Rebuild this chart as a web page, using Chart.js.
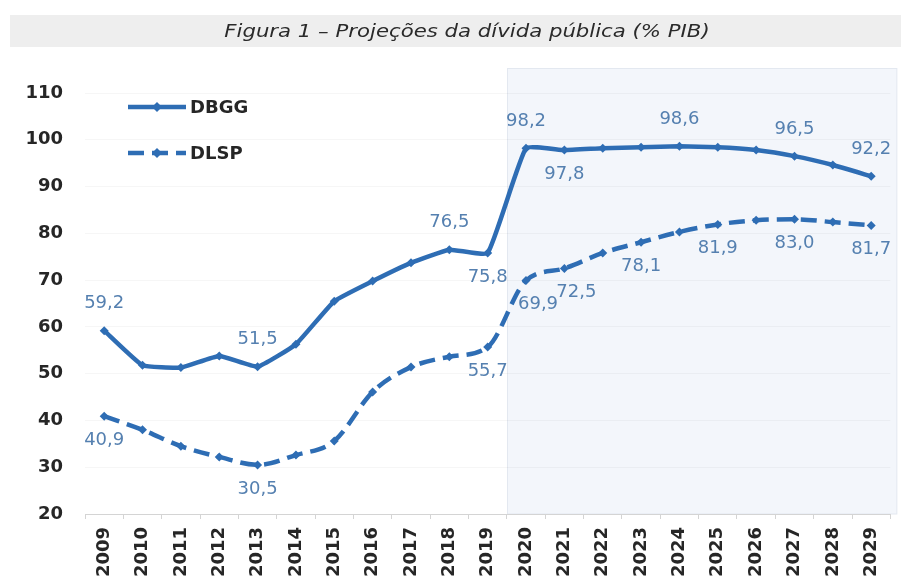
<!DOCTYPE html>
<html>
<head>
<meta charset="utf-8">
<script src="https://cdn.jsdelivr.net/npm/chart.js@4/dist/chart.umd.min.js"></script>
<style>
  html, body { margin: 0; padding: 0; background: #ffffff; }
  #wrap { width: 901px; height: 583px; }
</style>
</head>
<body>
<div id="wrap"><canvas id="c" width="901" height="583"></canvas></div>
<script>
// ---- data ----
const titleText = 'Figura 1 – Projeções da dívida pública (% PIB)';
const years = ['2009','2010','2011','2012','2013','2014','2015','2016','2017','2018','2019',
               '2020','2021','2022','2023','2024','2025','2026','2027','2028','2029'];
const dbgg = [59.2, 51.8, 51.3, 53.8, 51.5, 56.3, 65.5, 69.8, 73.7, 76.5, 75.8,
              98.2, 97.8, 98.2, 98.4, 98.6, 98.4, 97.8, 96.5, 94.6, 92.2];
const dlsp = [40.9, 38.0, 34.5, 32.2, 30.5, 32.6, 35.6, 46.1, 51.4, 53.6, 55.7,
              69.9, 72.5, 75.8, 78.1, 80.3, 81.9, 82.8, 83.0, 82.4, 81.7];
// which points carry a value label: 'a' above, 'b' below, 'br' below-right
const dbggLabels = ['a',null,null,null,'a',null,null,null,null,'a','b',
                    'a','b',null,null,'a',null,null,'a',null,'a'];
const dlspLabels = ['b',null,null,null,'b',null,null,null,null,null,'b',
                    'br','br',null,'b',null,'b',null,'b',null,'b'];
const firstProjectionIndex = 11;
const yTicks = [20, 30, 40, 50, 60, 70, 80, 90, 100, 110];

const LINE = '#2e6db4';
const LABEL = '#5580b0';
const FONT = "'DejaVu Sans', sans-serif";

const bgPlugin = {
  id: 'bg',
  beforeDraw(chart) {
    const ctx = chart.ctx;
    ctx.save();
    ctx.fillStyle = '#ffffff';
    ctx.fillRect(0, 0, chart.width, chart.height);
    // title band
    ctx.fillStyle = '#eeeeee';
    ctx.fillRect(10, 15, chart.width - 10, 32);
    ctx.save();
    ctx.translate(467, 32);
    ctx.scale(1.18, 1);
    ctx.fillStyle = '#2a2a2a';
    ctx.font = 'italic 18px ' + FONT;
    ctx.textAlign = 'center';
    ctx.textBaseline = 'middle';
    ctx.fillText(titleText, 0, 0);
    ctx.restore();
    // projection shaded region
    const xs = chart.scales.x, ys = chart.scales.y, ca = chart.chartArea;
    const x0 = Math.round((xs.getPixelForValue(firstProjectionIndex - 1) + xs.getPixelForValue(firstProjectionIndex)) / 2) + 0.5;
    const x1 = ca.right + 6.5;
    const y0 = Math.round(ys.getPixelForValue(115.3)) + 0.5;
    const y1 = ca.bottom;
    ctx.fillStyle = '#f3f6fb';
    ctx.fillRect(x0, y0, x1 - x0, y1 - y0);
    ctx.strokeStyle = '#e3e8f0';
    ctx.lineWidth = 1;
    ctx.strokeRect(x0, y0, x1 - x0, y1 - y0);
    ctx.restore();
  }
};

const labelPlugin = {
  id: 'valueLabels',
  afterDatasetsDraw(chart) {
    const ctx = chart.ctx;
    ctx.save();
    ctx.font = '18px ' + FONT;
    ctx.fillStyle = LABEL;
    ctx.textAlign = 'center';
    ctx.textBaseline = 'middle';
    const sets = [[0, dbggLabels], [1, dlspLabels]];
    sets.forEach(([di, flags]) => {
      const meta = chart.getDatasetMeta(di);
      const vals = chart.data.datasets[di].data;
      meta.data.forEach((pt, i) => {
        const f = flags[i];
        if (!f) return;
        const txt = vals[i].toFixed(1).replace('.', ',');
        let dx = 0, dy = 0;
        if (f === 'a') dy = -27;
        else if (f === 'b') dy = 24;
        else if (f === 'br') { dy = 24; dx = 12; }
        ctx.fillText(txt, pt.x + dx, pt.y + dy);
      });
    });
    ctx.restore();
  }
};

const legendPlugin = {
  id: 'inLegend',
  afterDraw(chart) {
    const ctx = chart.ctx;
    ctx.save();
    const rows = [107, 153];
    chart.data.datasets.forEach((ds, i) => {
      const y = rows[i];
      ctx.strokeStyle = ds.borderColor;
      ctx.lineWidth = ds.borderWidth;
      ctx.setLineDash(ds.borderDash || []);
      ctx.beginPath();
      ctx.moveTo(128, y);
      ctx.lineTo(186, y);
      ctx.stroke();
      ctx.setLineDash([]);
      ctx.fillStyle = ds.borderColor;
      const r = 5;
      ctx.beginPath();
      ctx.moveTo(157, y - r); ctx.lineTo(157 + r, y); ctx.lineTo(157, y + r); ctx.lineTo(157 - r, y);
      ctx.closePath(); ctx.fill();
      ctx.fillStyle = '#262626';
      ctx.font = 'bold 18px ' + FONT;
      ctx.textAlign = 'left';
      ctx.textBaseline = 'middle';
      ctx.fillText(ds.label, 190, y + 1);
    });
    ctx.restore();
  }
};

new Chart(document.getElementById('c'), {
  type: 'line',
  data: {
    labels: years,
    datasets: [
      {
        label: 'DBGG', data: dbgg,
        borderColor: LINE, backgroundColor: LINE, borderWidth: 4.5,
        pointStyle: 'rectRot', pointRadius: 4.5, pointBackgroundColor: LINE, pointBorderWidth: 0,
        tension: 0.12, fill: false
      },
      {
        label: 'DLSP', data: dlsp,
        borderColor: LINE, backgroundColor: LINE, borderWidth: 4.5, borderDash: [16, 8],
        pointStyle: 'rectRot', pointRadius: 4.5, pointBackgroundColor: LINE, pointBorderWidth: 0,
        cubicInterpolationMode: 'monotone', fill: false
      }
    ]
  },
  options: {
    responsive: false,
    animation: false,
    devicePixelRatio: 1,
    layout: { padding: { top: 93, right: 9, left: 0, bottom: 0 } },
    plugins: { legend: { display: false }, title: { display: false }, tooltip: { enabled: false } },
    scales: {
      x: {
        offset: true,
        grid: { display: true, drawOnChartArea: false, offset: true, tickLength: 5, color: '#d4d4d4' },
        border: { display: true, color: '#d4d4d4', width: 1 },
        ticks: { autoSkip: false, minRotation: 90, maxRotation: 90, padding: 8,
                 color: '#262626', font: { family: FONT, size: 18, weight: 'bold' } },
        afterFit(s) { s.height = 69; }
      },
      y: {
        min: yTicks[0], max: yTicks[yTicks.length - 1],
        afterBuildTicks(s) { s.ticks = yTicks.map(v => ({ value: v })); },
        grid: { display: true, color: 'rgba(0,0,0,0.035)', drawTicks: false },
        border: { display: false },
        ticks: { padding: 22, color: '#262626', font: { family: FONT, size: 18, weight: 'bold' } },
        afterFit(s) { s.width = 85; }
      }
    }
  },
  plugins: [bgPlugin, labelPlugin, legendPlugin]
});
</script>
</body>
</html>
